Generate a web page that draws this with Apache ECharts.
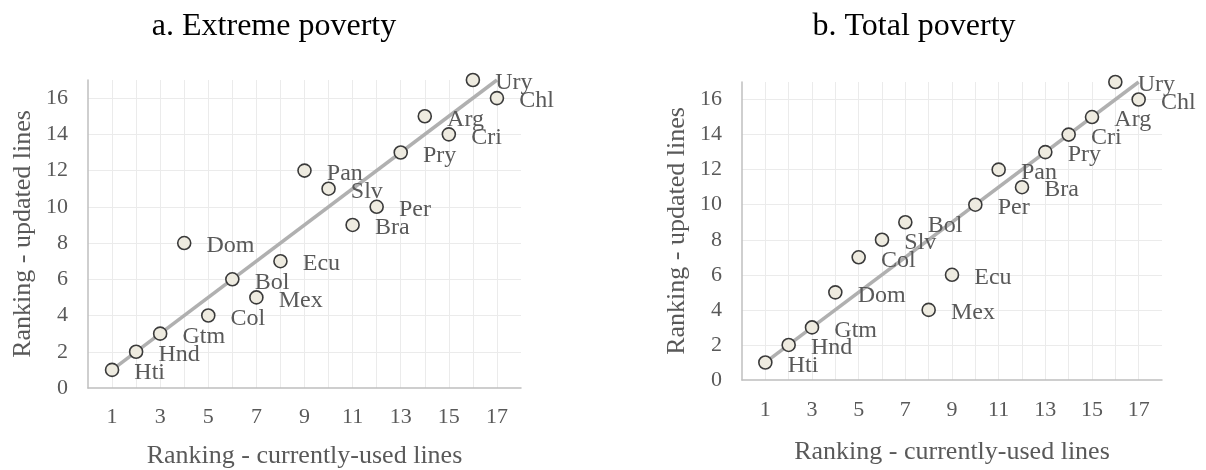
<!DOCTYPE html>
<html>
<head>
<meta charset="utf-8">
<script src="https://cdn.jsdelivr.net/npm/echarts@6/dist/echarts.min.js"></script>
<style>
html,body{margin:0;padding:0;background:#fff;}
#chart{width:1206px;height:470px;}
</style>
</head>
<body>
<div id="chart"></div>
<script>
// ---- Data ----
const titleA = 'a. Extreme poverty';
const titleB = 'b. Total poverty';
const xAxisName = 'Ranking - currently-used lines';
const yAxisName = 'Ranking - updated lines';

const countriesA = ['Hti','Hnd','Gtm','Dom','Col','Bol','Mex','Ecu','Pan','Slv','Bra','Per','Pry','Arg','Cri','Ury','Chl'];
const currentA   = [1,2,3,4,5,6,7,8,9,10,11,12,13,14,15,16,17];
const updatedA   = [1,2,3,8,4,6,5,7,12,11,9,10,13,15,14,17,16];

const countriesB = ['Hti','Hnd','Gtm','Dom','Col','Slv','Bol','Mex','Ecu','Per','Pan','Bra','Pry','Cri','Arg','Ury','Chl'];
const currentB   = [1,2,3,4,5,6,7,8,9,10,11,12,13,14,15,16,17];
const updatedB   = [1,2,3,5,7,8,9,4,6,10,12,11,13,14,15,17,16];

const trendX = [1, 17];
const trendY = [1, 17];

const xTicks = [1,3,5,7,9,11,13,15,17];
const yTicks = [0,2,4,6,8,10,12,14,16];

// ---- Styling ----
const FONT = "'Liberation Serif', 'Times New Roman', serif";
const TXT = '#595959';

function pts(xs, ys, names) {
  return xs.map((x, i) => ({ value: [x, ys[i]], name: names ? names[i] : undefined }));
}

function xAxis(gridIndex, gap, margin) {
  return {
    type: 'value', gridIndex, min: 0, max: 18, interval: 1,
    name: xAxisName, nameLocation: 'middle', nameGap: gap,
    nameTextStyle: { fontFamily: FONT, fontSize: 26, color: TXT },
    axisLine: { show: true, lineStyle: { color: '#bfbfbf', width: 1.5 } },
    axisTick: { show: false },
    axisLabel: {
      margin: margin, fontFamily: FONT, fontSize: 22, color: TXT,
      formatter: v => (xTicks.indexOf(v) >= 0 ? String(v) : '')
    },
    splitLine: { show: true, showMinLine: false, showMaxLine: false, lineStyle: { color: '#ebebeb', width: 1 } }
  };
}
function yAxis(gridIndex) {
  return {
    type: 'value', gridIndex, min: 0, max: 17, interval: 2,
    name: yAxisName, nameLocation: 'middle', nameGap: 52, nameRotate: 90,
    nameTextStyle: { fontFamily: FONT, fontSize: 26, color: TXT },
    axisLine: { show: true, lineStyle: { color: '#bfbfbf', width: 1.5 } },
    axisTick: { show: false },
    axisLabel: {
      margin: 20, fontFamily: FONT, fontSize: 22, color: TXT,
      formatter: v => (yTicks.indexOf(v) >= 0 ? String(v) : '')
    },
    splitLine: { show: true, showMinLine: false, showMaxLine: false, lineStyle: { color: '#ebebeb', width: 1 } }
  };
}

function scatter(idx, xs, ys, names) {
  return {
    type: 'scatter', xAxisIndex: idx, yAxisIndex: idx, z: 3,
    symbol: 'circle', symbolSize: 13,
    itemStyle: { color: '#eeebe0', borderColor: '#3a3a3a', borderWidth: 1.6, opacity: 1 },
    label: {
      show: true, position: 'right', distance: 15, offset: [0, 3],
      formatter: p => p.name,
      fontFamily: FONT, fontSize: 24, color: TXT
    },
    emphasis: { disabled: true },
    data: pts(xs, ys, names)
  };
}
function trend(idx) {
  return {
    type: 'line', xAxisIndex: idx, yAxisIndex: idx, z: 2,
    showSymbol: false, symbol: 'none', silent: true,
    lineStyle: { color: '#b0b0b0', width: 3.5 },
    data: pts(trendX, trendY)
  };
}

const chart = echarts.init(document.getElementById('chart'), null, { renderer: 'canvas' });
chart.setOption({
  animation: false,
  backgroundColor: '#ffffff',
  title: [
    { text: titleA, left: 269, top: 6, textAlign: 'center',
      textStyle: { fontFamily: FONT, fontSize: 32, fontWeight: 'normal', color: '#000' } },
    { text: titleB, left: 909, top: 6, textAlign: 'center',
      textStyle: { fontFamily: FONT, fontSize: 32, fontWeight: 'normal', color: '#000' } }
  ],
  grid: [
    { left: 88, top: 80, width: 433, height: 308, containLabel: false, outerBoundsMode: 'none' },
    { left: 742, top: 82, width: 420, height: 298, containLabel: false, outerBoundsMode: 'none' }
  ],
  xAxis: [xAxis(0, 55, 18), xAxis(1, 59, 19)],
  yAxis: [yAxis(0), yAxis(1)],
  series: [
    trend(0), scatter(0, currentA, updatedA, countriesA),
    trend(1), scatter(1, currentB, updatedB, countriesB)
  ]
});
</script>
</body>
</html>
